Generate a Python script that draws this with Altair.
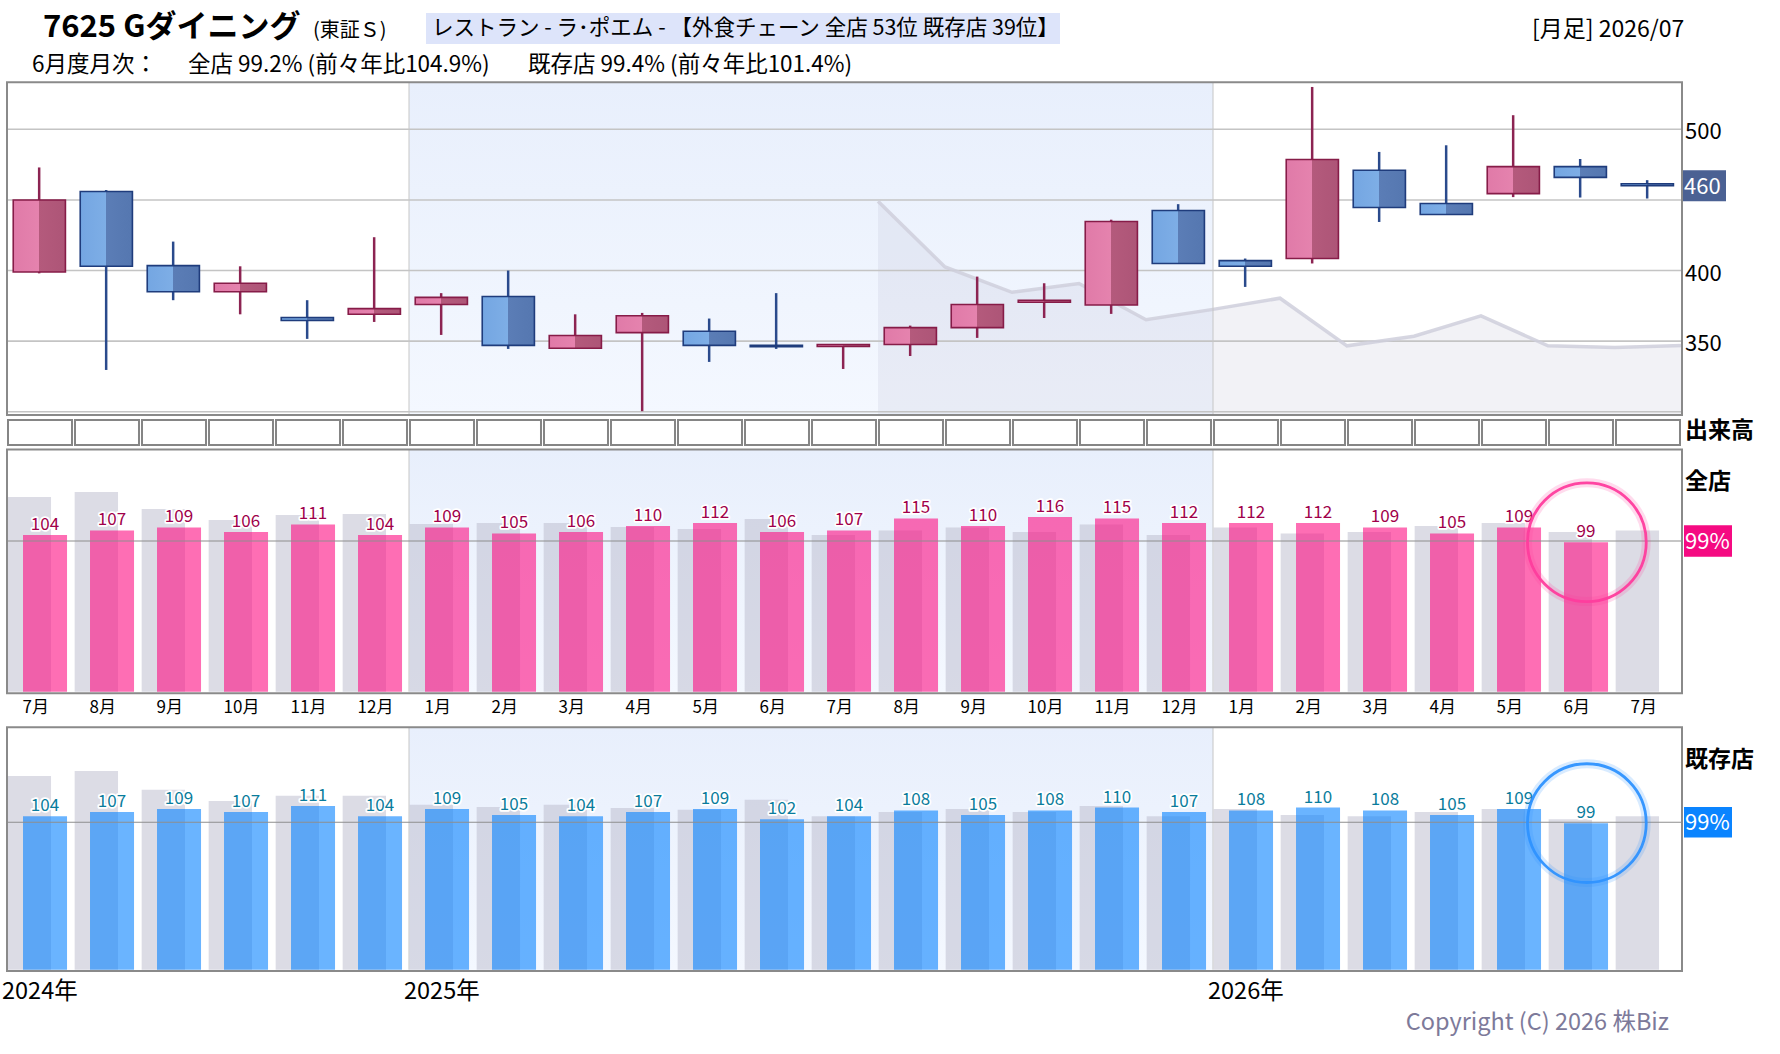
import altair as alt
import pandas as pd

FONT = "Noto Sans CJK JP"

# ---------------- data ----------------
months = ["7月", "8月", "9月", "10月", "11月", "12月",
          "1月", "2月", "3月", "4月", "5月", "6月", "7月", "8月", "9月", "10月", "11月", "12月",
          "1月", "2月", "3月", "4月", "5月", "6月", "7月"]
years = ["2024年", "2025年", "2026年"]
year_start = [0, 6, 18]

opens = [399, 456, 403.5, 385, 366.7, 369, 376, 381.6, 345, 356, 357, 347, 346.2,
         347.6, 359.6, 377.5, 375.6, 442.5, 407, 408.5, 471, 447.5, 454.5, 473.6, 461.5]
highs = [473, 457, 420.5, 403, 379, 423.6, 384, 400, 369, 370, 366, 384, 347.6,
         361, 395.7, 391, 436, 447, 408.5, 530, 484, 488.7, 510, 479, 464]
lows = [398, 329.6, 379, 369, 351.6, 363.6, 354.4, 344.5, 344.8, 300.4, 335.3, 344.5, 330.3,
        339.5, 352.3, 366.4, 369.3, 405, 388.4, 405, 434.4, 439.7, 452, 451.7, 451]
closes = [450, 403, 385, 391, 364.6, 373, 381, 347, 354, 368, 347, 346, 347.6,
          359.6, 376, 379, 434.7, 405, 403, 478.6, 444.6, 439.7, 473.6, 466, 460]

# comparison line (plotted at month boundaries)
cmp_x = [13, 14, 15, 16, 17, 18, 19, 20, 21, 22, 23, 24, 25]
cmp_v = [449, 402.5, 384.6, 390.8, 365.2, 372.5, 380.4, 346.7, 353.5, 367.9, 346.7, 345.5, 347]

price_grid = [300, 350, 400, 450, 500]
price_labels = [500, 400, 350]

zen = [104, 107, 109, 106, 111, 104, 109, 105, 106, 110, 112, 106,
       107, 115, 110, 116, 115, 112, 112, 112, 109, 105, 109, 99.2]
zen_prev = [129.2, 132.5, 121.2, 113.9, 117.2, 117.9, 111.3, 111.9, 111.9, 109.3, 108, 114.6,
            104, 107, 109, 106, 111, 104, 109, 105, 106, 110, 112, 106, 107]
kis = [104, 107, 109, 107, 111, 104, 109, 105, 104, 107, 109, 102,
       104, 108, 105, 108, 110, 107, 108, 110, 108, 105, 109, 99.4]
kis_prev = [131.4, 134.8, 122, 114.5, 118, 118, 111.8, 110.4, 111.8, 109.7, 108.4, 115.2,
            104, 107, 109, 107, 111, 104, 109, 105, 104, 107, 109, 102, 104]

zen_pct, zen_2y = 99.2, 104.9
kis_pct, kis_2y = 99.4, 101.4

# ---------------- scales ----------------
N = len(months)
XS = alt.Scale(domain=[0, N], range=[7, 1682], nice=False, zero=False)
YT = alt.Scale(domain=[297.7, 533.3], range=[415, 82.3], nice=False, zero=False)
YM = alt.Scale(domain=[0, 160.6], range=[691.7, 449.7], nice=False, zero=False)
YB = alt.Scale(domain=[0, 164.4], range=[969.7, 727.3], nice=False, zero=False)


def X(f):
    return alt.X(f, type="quantitative", scale=XS, axis=None)


def Y(f, s):
    return alt.Y(f, type="quantitative", scale=s, axis=None)


cdf = pd.DataFrame({"i": list(range(N)), "o": opens, "h": highs, "l": lows, "c": closes})
cdf["up"] = cdf["c"] >= cdf["o"]

layers = []

# ---------- panel backgrounds (2025 shading) ----------
bg_grad = alt.Gradient(gradient="linear", x1=0, y1=0, x2=0, y2=1,
                       stops=[alt.GradientStop(color="#e8effc", offset=0),
                              alt.GradientStop(color="#f4f8ff", offset=1)])
ydf = pd.DataFrame({"s": [year_start[1]], "e": [year_start[2]]})
for s, (lo, hi) in [(YT, (297.7, 533.3)), (YM, (0, 160.6)), (YB, (0, 164.4))]:
    layers.append(alt.Chart(ydf).mark_rect(fill=bg_grad).encode(
        x=X("s"), x2="e:Q", y=alt.Y(datum=lo, type="quantitative", scale=s, axis=None),
        y2=alt.datum(hi)))

# ---------- top panel ----------
adf = pd.DataFrame({"b": cmp_x, "v": cmp_v})
layers.append(alt.Chart(adf).mark_area(fill="rgb(175,175,200)", fillOpacity=0.16).encode(
    x=X("b"), y=Y("v", YT), y2=alt.datum(297.7)))

gdf = pd.DataFrame({"g": price_grid})
layers.append(alt.Chart(gdf).mark_rule(color="#c4c4c4", strokeWidth=1.6).encode(
    y=Y("g", YT), x=alt.X(datum=0, type="quantitative", scale=XS, axis=None), x2=alt.datum(N)))

layers.append(alt.Chart(adf).mark_line(color="#cfcfdc", strokeWidth=3.5, opacity=0.85).encode(
    x=X("b"), y=Y("v", YT)))

sep = pd.DataFrame({"s": year_start[1:]})
for s, (lo, hi) in [(YT, (297.7, 533.3)), (YM, (0, 160.6)), (YB, (0, 164.4))]:
    layers.append(alt.Chart(sep).mark_rule(color="#c6c6c6", strokeWidth=1).encode(
        x=X("s"), y=alt.Y(datum=lo, type="quantitative", scale=s, axis=None), y2=alt.datum(hi)))

up_grad = alt.Gradient(gradient="linear", x1=0, y1=0, x2=1, y2=0,
                       stops=[alt.GradientStop(color="#e07aa8", offset=0),
                              alt.GradientStop(color="#e583ae", offset=0.5),
                              alt.GradientStop(color="#b45a7c", offset=0.5),
                              alt.GradientStop(color="#ad5577", offset=1)])
dn_grad = alt.Gradient(gradient="linear", x1=0, y1=0, x2=1, y2=0,
                       stops=[alt.GradientStop(color="#74a6e2", offset=0),
                              alt.GradientStop(color="#7eaee6", offset=0.5),
                              alt.GradientStop(color="#5b7db6", offset=0.5),
                              alt.GradientStop(color="#5577b0", offset=1)])

for flag, wick_c, grad, edge in [(True, "#8c2452", up_grad, "#861c48"),
                                 (False, "#2a4a8c", dn_grad, "#1f3c7c")]:
    base = alt.Chart(cdf).transform_filter(
        f"datum.up == {'true' if flag else 'false'}").transform_calculate(
        xc="datum.i + 0.48", xl="datum.i + 0.093", xr="datum.i + 0.872",
        top="max(datum.o, datum.c)", bot="min(datum.o, datum.c)")
    layers.append(base.mark_rule(color=wick_c, strokeWidth=2.5).encode(
        x=X("xc"), y=Y("l", YT), y2="h:Q"))
    layers.append(base.mark_rect(fill=grad, stroke=edge, strokeWidth=1.6).encode(
        x=X("xl"), x2="xr:Q", y=Y("top", YT), y2="bot:Q"))

# right price labels
layers.append(alt.Chart(pd.DataFrame({"g": price_labels})).mark_text(
    align="left", baseline="middle", dy=3, font=FONT, fontSize=22, color="#000").encode(
    x=alt.value(1685), y=Y("g", YT), text="g:Q"))

pdf = pd.DataFrame({"v": [closes[-1]]})
ptag = alt.Chart(pdf).transform_calculate(y1="datum.v + 11", y2="datum.v - 11",
                                          t="format(datum.v, '.0f')")
layers.append(ptag.mark_rect(fill="#4b6193").encode(
    x=alt.value(1682), x2=alt.value(1726), y=Y("y1", YT), y2="y2:Q"))
layers.append(ptag.mark_text(align="left", baseline="middle", dy=1, font=FONT, fontSize=22,
                             color="white").encode(x=alt.value(1684), y=Y("v", YT), text="t:N"))

# ---------- volume row ----------
vdf = pd.DataFrame({"i": list(range(N))})
layers.append(alt.Chart(vdf).transform_calculate(a="datum.i + 0.015", b="datum.i + 0.97").mark_rect(
    fill="white", stroke="#858585", strokeWidth=2).encode(
    x=X("a"), x2="b:Q", y=alt.value(420), y2=alt.value(445)))


# ---------- bar panels ----------
def bar_panel(cur, prev, ys, fill_rgb, label_col, ring_col, tag_col, pct):
    out = []
    pr = pd.DataFrame({"i": list(range(len(prev))), "v": prev})
    cu = pd.DataFrame({"i": list(range(len(cur))), "v": cur})
    out.append(alt.Chart(pr).transform_calculate(a="datum.i + 0.01", b="datum.i + 0.657").mark_rect(
        fill="rgb(188,188,206)", fillOpacity=0.52).encode(
        x=X("a"), x2="b:Q", y=Y("v", ys), y2=alt.datum(0)))
    out.append(alt.Chart(cu).transform_calculate(a="datum.i + 0.239", b="datum.i + 0.896").mark_rect(
        fill=fill_rgb, fillOpacity=0.6).encode(
        x=X("a"), x2="b:Q", y=Y("v", ys), y2=alt.datum(0)))
    out.append(alt.Chart(pd.DataFrame({"r": [100]})).mark_rule(color="#8e8e8e", strokeWidth=1.2).encode(
        y=Y("r", ys), x=alt.X(datum=0, type="quantitative", scale=XS, axis=None), x2=alt.datum(N)))
    lab = alt.Chart(cu).transform_calculate(xc="datum.i + 0.567", t="format(datum.v, '.0f')")
    out.append(lab.mark_text(baseline="alphabetic", dy=-5, font=FONT, fontSize=17, color="white",
                             stroke="white", strokeWidth=3.5, strokeJoin="round").encode(
        x=X("xc"), y=Y("v", ys), text="t:N"))
    out.append(lab.mark_text(baseline="alphabetic", dy=-5, font=FONT, fontSize=17,
                             color=label_col).encode(x=X("xc"), y=Y("v", ys), text="t:N"))
    last = pd.DataFrame({"x": [len(cur) - 1 + 0.58], "v": [cur[-1]]})
    out.append(alt.Chart(last).mark_point(shape="circle", size=14100, filled=False,
                                          stroke=ring_col, strokeWidth=9, opacity=0.18).encode(
        x=X("x"), y=Y("v", ys)))
    out.append(alt.Chart(last).mark_point(shape="circle", size=14100, filled=False,
                                          stroke=ring_col, strokeWidth=2.8, opacity=0.95).encode(
        x=X("x"), y=Y("v", ys)))
    tag = alt.Chart(pd.DataFrame({"r": [100], "p": [pct]})).transform_calculate(
        y1="datum.r + 10.4", y2="datum.r - 10.4", t="format(datum.p, '.0f') + '%'")
    out.append(tag.mark_rect(fill=tag_col).encode(
        x=alt.value(1684), x2=alt.value(1732), y=Y("y1", ys), y2="y2:Q"))
    out.append(tag.mark_text(align="left", baseline="middle", dy=1, font=FONT, fontSize=22,
                             color="white").encode(x=alt.value(1685), y=Y("r", ys), text="t:N"))
    return out


layers += bar_panel(zen, zen_prev, YM, "rgb(253,13,130)", "#a0004a", "#ff3d9e", "#f50a82", zen_pct)
layers += bar_panel(kis, kis_prev, YB, "rgb(7,130,255)", "#0a7c9c", "#2f93ff", "#0a84ff", kis_pct)

# month labels
mdf = pd.DataFrame({"i": list(range(N)), "m": months})
layers.append(alt.Chart(mdf).transform_calculate(a="datum.i + 0.232").mark_text(
    align="left", baseline="middle", font=FONT, fontSize=17, color="#000").encode(
    x=X("a"), y=alt.value(708), text="m:N"))

# year labels
ydf2 = pd.DataFrame({"s": year_start, "y": years})
layers.append(alt.Chart(ydf2).mark_text(align="left", baseline="middle", dx=-5, font=FONT,
                                        fontSize=23.5, color="#000").encode(
    x=X("s"), y=alt.value(992), text="y:N"))

# panel frames
for lo_px, hi_px in [(82.3, 415), (449.5, 693.3), (727.3, 971)]:
    layers.append(alt.Chart(pd.DataFrame({"k": [0]})).mark_rect(
        fill=None, stroke="#8a8a8a", strokeWidth=2).encode(
        x=alt.X(datum=0, type="quantitative", scale=XS, axis=None), x2=alt.datum(N),
        y=alt.value(lo_px), y2=alt.value(hi_px)))


# ---------- header / side texts ----------
def txt(t, x, y, size, weight="normal", color="#000", align="left", baseline="middle"):
    return alt.Chart(pd.DataFrame({"t": [t]})).mark_text(
        align=align, baseline=baseline, font=FONT, fontSize=size, fontWeight=weight,
        color=color).encode(x=alt.value(x), y=alt.value(y), text="t:N")


layers.append(alt.Chart(pd.DataFrame({"k": [0]})).mark_rect(fill="#dde4fa").encode(
    x=alt.value(426), x2=alt.value(1060), y=alt.value(13), y2=alt.value(44)))
layers += [
    txt("7625 Gダイニング", 43, 37, 31, "bold", baseline="alphabetic"),
    txt("(東証Ｓ)", 313, 37, 20, baseline="alphabetic"),
    txt("レストラン - ラ･ポエム - 【外食チェーン 全店 53位 既存店 39位】", 432, 29, 21.5),
    txt("[月足] 2026/07", 1532, 30, 23),
    txt("6月度月次：", 32, 65, 22.5),
    txt(f"全店 {zen_pct}% (前々年比{zen_2y}%)", 188, 65, 22.5),
    txt(f"既存店 {kis_pct}% (前々年比{kis_2y}%)", 528, 65, 22.5),
    txt("出来高", 1685, 431, 23, "bold"),
    txt("全店", 1685, 482, 23, "bold"),
    txt("既存店", 1685, 760, 23, "bold"),
    txt("Copyright (C) 2026 株Biz", 1669, 1023, 23.5, color="#7d7a9a", align="right"),
]

chart = alt.layer(*layers).resolve_scale(y="independent").properties(
    width=1778, height=1040, padding=0, autosize=alt.AutoSizeParams(type="none"),
    background="white").configure_view(stroke=None)

chart.save("out.html", embed_options={"renderer": "svg", "actions": False})
